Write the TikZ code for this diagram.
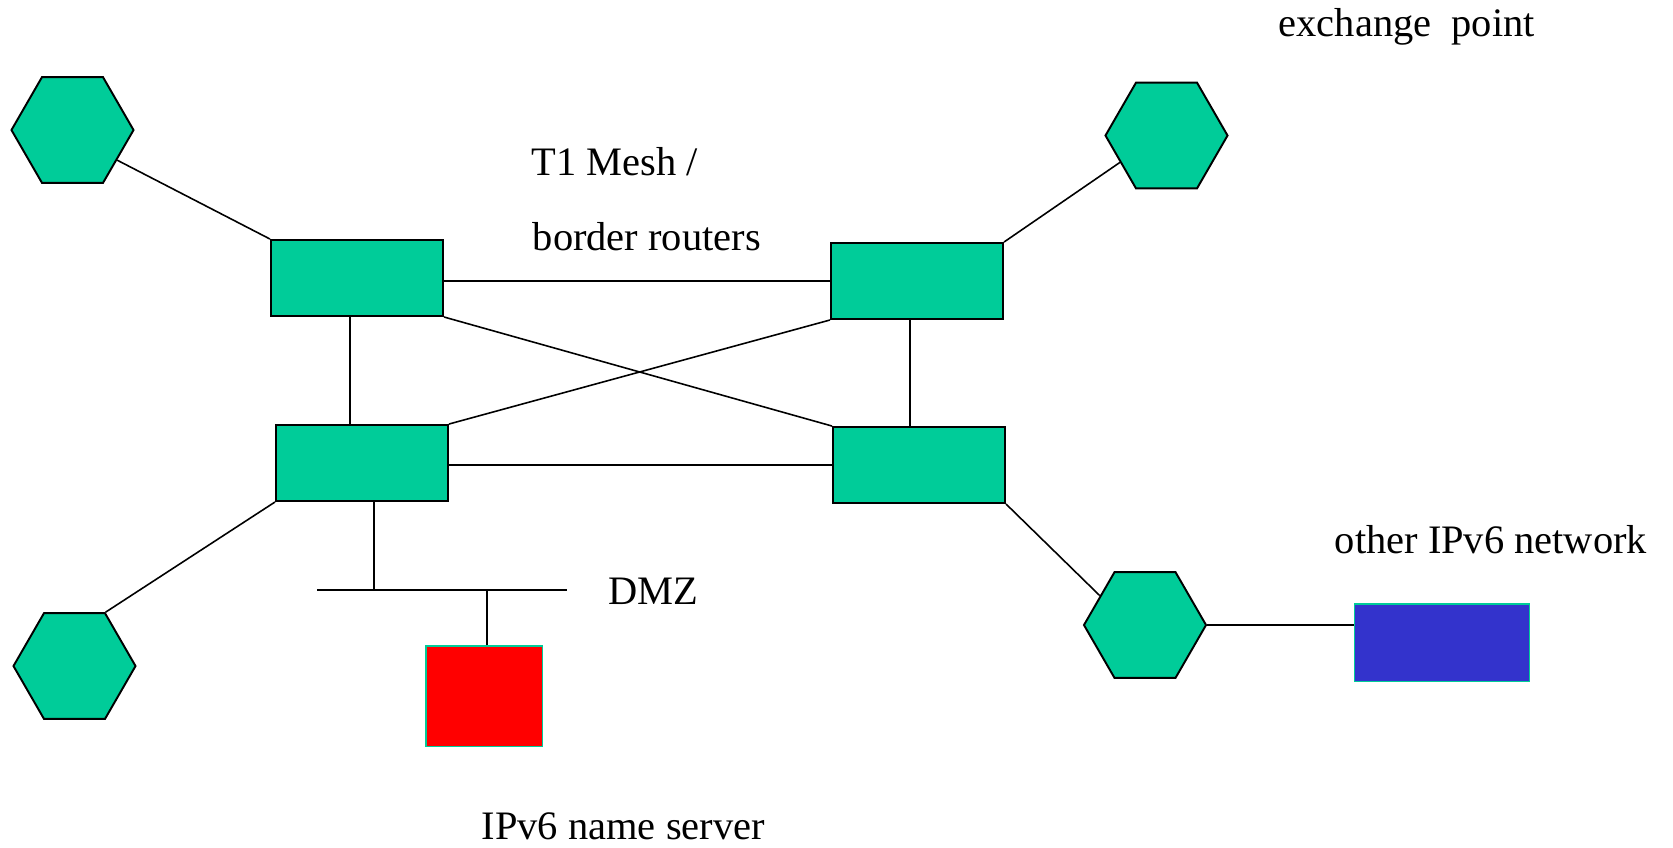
\documentclass[tikz,border=0pt]{standalone}
\usepackage{fontspec}
\setmainfont{Liberation Serif}
\usetikzlibrary{shapes.geometric}
\definecolor{verde}{RGB}{0,204,153}
\definecolor{azul}{RGB}{51,51,204}

\begin{document}
\begin{tikzpicture}[x=0.01cm, y=-0.01cm, line width=0.45pt,
        roteador/.style={draw, line width=0.55pt, fill=verde, minimum width=1.72cm, minimum height=0.76cm, inner sep=0pt},
        hexagono/.style={draw, line width=0.55pt, fill=verde, regular polygon, regular polygon sides=6, minimum size=1.22cm, inner sep=0pt},
        caixa/.style={draw=verde, line width=0.3pt, inner sep=0pt},
        rotulo/.style={anchor=base west, inner sep=0pt, font=\fontsize{11.5}{14}\selectfont}]
        \useasboundingbox (0,0) rectangle (1673,847);
        % roteadores de borda (malha T1)
        \node[roteador] (R1) at (357,278) {};
        \node[roteador] (R2) at (917,281) {};
        \node[roteador] (R3) at (362,463) {};
        \node[roteador] (R4) at (919,465) {};
        % os quatro hexagonos
        \foreach \n/\x/\y in {X1/72.5/130, X2/1166.5/135.5, X3/74.5/666, X4/1145/625}
            \node[hexagono] (\n) at (\x,\y) {};
        % servidor de nomes e a outra rede
        \node[caixa, fill=red, minimum width=1.16cm, minimum height=1cm] (NS) at (484,696) {};
        \node[caixa, fill=azul, minimum width=1.74cm, minimum height=0.77cm] (IP) at (1442,642.5) {};
        % barramento da DMZ
        \coordinate (D1) at (317,590);
        \coordinate (D2) at (567,590);
        \draw (D1) -- (D2);
        % ligacoes da malha
        \draw (R2.west -| R1.east) -- (R2.west);
        \draw (R4.west -| R3.east) -- (R4.west);
        \draw (R1.south east) -- (R4.north west);
        \draw (R3.north east) -- (R2.south west);
        \draw ([xshift=-0.07cm]R1.south) -- ([xshift=-0.07cm]R1.south |- R3.north);
        \draw ([xshift=-0.07cm]R2.south) -- ([xshift=-0.07cm]R2.south |- R4.north);
        % ligacoes aos hexagonos
        \draw (X1.-34) -- (R1.north west);
        \draw (R2.north east) -- (X2.210);
        \draw (R3.south west) -- (X3.60);
        \draw (R4.south east) -- (X4.147);
        \draw (X4.east) -- (X4.east -| IP.west);
        % ligacoes da DMZ
        \draw ([xshift=0.12cm]R3.south) -- ([xshift=0.12cm]R3.south |- D1);
        \draw ([xshift=0.03cm]NS.north) -- ([xshift=0.03cm]NS.north |- D1);
        % textos
        \node[rotulo] (TM) at (531,175) {T1 Mesh /};
        \node[rotulo] (BR) at (532,250) {border routers};
        \node[rotulo] (EP) at (1278,36) {exchange\ \ point};
        \node[rotulo] (DZ) at (608,604) {DMZ};
        \node[rotulo] (ON) at (1334,553) {other IPv6 network};
        \node[rotulo] (NN) at (481,839) {IPv6 name server};
    \end{tikzpicture}
\end{document}
